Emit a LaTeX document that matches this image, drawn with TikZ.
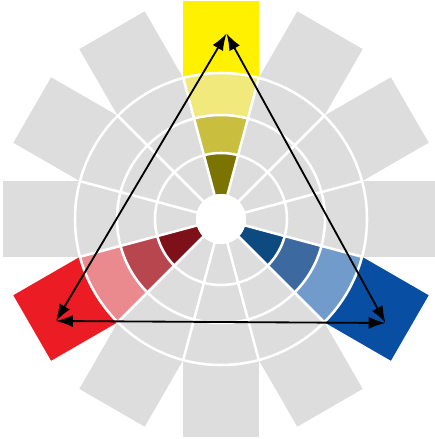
\documentclass[tikz,border=0pt]{standalone}
\usetikzlibrary{arrows.meta}

\definecolor{wheelgray}{RGB}{221,221,221}
\definecolor{yellowA}{RGB}{255,241,0}
\definecolor{yellowB}{RGB}{241,233,124}
\definecolor{yellowC}{RGB}{201,190,62}
\definecolor{yellowD}{RGB}{124,116,0}
\definecolor{redA}{RGB}{236,28,36}
\definecolor{redB}{RGB}{234,138,143}
\definecolor{redC}{RGB}{184,70,78}
\definecolor{redD}{RGB}{125,16,24}
\definecolor{blueA}{RGB}{8,78,163}
\definecolor{blueB}{RGB}{112,155,203}
\definecolor{blueC}{RGB}{60,106,160}
\definecolor{blueD}{RGB}{12,74,128}

\begin{document}
\begin{tikzpicture}[x=0.025cm, y=0.025cm,
    wheel line/.style={white, line width=1.8pt},
    tri arrow/.style={black, line width=1.3pt,
      {Latex[length=4.2mm, width=3mm]}-{Latex[length=4.2mm, width=3mm]}}]

    \useasboundingbox (-221,-220) rectangle (213,219);

    % grey pieces of the wheel
    \foreach \a in {0,30,60,120,150,180,240,270,300} {
      \fill[wheelgray, rotate=\a] (141,-37.8) rectangle (218,37.8);
      \fill[wheelgray, rotate=\a] (-15:25) arc[start angle=-15, end angle=15, radius=25]
        -- (15:146) arc[start angle=15, end angle=-15, radius=146] -- cycle;
    }

    % the three primaries
    \foreach \a/\ca/\cb/\cc/\cd in {90/yellowA/yellowB/yellowC/yellowD,
        210/redA/redB/redC/redD, 330/blueA/blueB/blueC/blueD} {
      \begin{scope}[rotate=\a]
        \fill[\ca] (141,-37.8) rectangle (218,37.8);
        \fill[\cb] (-15:104) arc[start angle=-15, end angle=15, radius=104]
          -- (15:146) arc[start angle=15, end angle=-15, radius=146] -- cycle;
        \fill[\cc] (-15:66) arc[start angle=-15, end angle=15, radius=66]
          -- (15:104) arc[start angle=15, end angle=-15, radius=104] -- cycle;
        \fill[\cd] (-15:25) arc[start angle=-15, end angle=15, radius=25]
          -- (15:66) arc[start angle=15, end angle=-15, radius=66] -- cycle;
      \end{scope}
    }

    % white rings and spokes
    \foreach \r in {66,104,146}
      \draw[wheel line] (0,0) circle[radius=\r];
    \foreach \a in {15,45,...,345}
      \draw[wheel line] (\a:25) -- (\a:146);
    \fill[white] (0,0) circle[radius=25];

    % triad
    \coordinate (yel) at (5.5,185.5);
    \coordinate (red) at (-165,-102);
    \coordinate (blu) at (164.5,-104);

    \draw[tri arrow] (yel) -- (red);
    \draw[tri arrow] (red) -- (blu);
    \draw[tri arrow] (blu) -- (yel);

\end{tikzpicture}
\end{document}
